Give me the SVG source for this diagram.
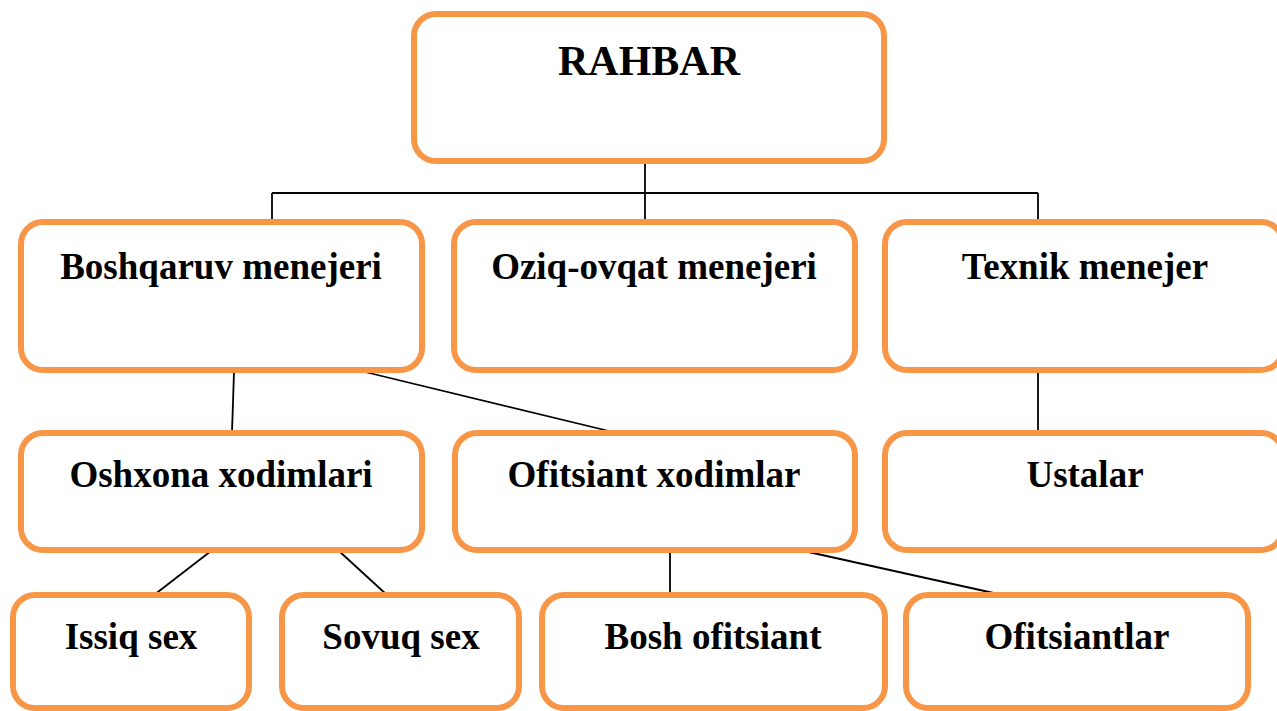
<svg xmlns="http://www.w3.org/2000/svg" width="1277" height="711" viewBox="0 0 1277 711">
<style>
.box{fill:#fff;stroke:#F79646;stroke-width:6}
.lbl{font-family:"Liberation Serif","Times New Roman",serif;font-weight:bold;font-size:37px;fill:#000;text-anchor:middle}
.big{font-size:42px}
.con line{stroke:#000;stroke-width:1.8}
</style>
<rect width="1277" height="711" fill="#fff"/>
<g class="con" id="connectors">
<line x1="645" y1="164" x2="645" y2="220"/>
<line x1="272" y1="193" x2="1038" y2="193"/>
<line x1="272" y1="193" x2="272" y2="220"/>
<line x1="1038" y1="193" x2="1038" y2="220"/>
<line x1="234" y1="372" x2="232" y2="432"/>
<line x1="361" y1="371" x2="613" y2="432"/>
<line x1="1038" y1="373" x2="1038" y2="432"/>
<line x1="211" y1="551" x2="154" y2="595"/>
<line x1="339" y1="551" x2="387" y2="595"/>
<line x1="670" y1="552" x2="670" y2="595"/>
<line x1="804" y1="551" x2="998" y2="594"/>
</g>
<g id="rahbar"><rect class="box" x="414" y="14" width="470" height="147" rx="22"/><text class="lbl big" x="649" y="75">RAHBAR</text></g>
<g id="boshqaruv"><rect class="box" x="21" y="222" width="401" height="148" rx="22"/><text class="lbl" x="221" y="279">Boshqaruv menejeri</text></g>
<g id="oziq"><rect class="box" x="454" y="222" width="401" height="148" rx="22"/><text class="lbl" x="654" y="279">Oziq-ovqat menejeri</text></g>
<g id="texnik"><rect class="box" x="885" y="222" width="398" height="148" rx="22"/><text class="lbl" x="1085" y="279">Texnik menejer</text></g>
<g id="oshxona"><rect class="box" x="21" y="433" width="401" height="117" rx="22"/><text class="lbl" x="221" y="487">Oshxona xodimlari</text></g>
<g id="ofitsiant-xodimlar"><rect class="box" x="455" y="433" width="400" height="117" rx="22"/><text class="lbl" x="654" y="487">Ofitsiant xodimlar</text></g>
<g id="ustalar"><rect class="box" x="885" y="433" width="398" height="117" rx="22"/><text class="lbl" x="1085" y="487">Ustalar</text></g>
<g id="issiq"><rect class="box" x="13" y="595" width="236" height="113" rx="22"/><text class="lbl" x="131" y="649">Issiq sex</text></g>
<g id="sovuq"><rect class="box" x="282" y="595" width="237" height="113" rx="22"/><text class="lbl" x="401" y="649">Sovuq sex</text></g>
<g id="bosh"><rect class="box" x="542" y="595" width="343" height="113" rx="22"/><text class="lbl" x="713" y="649">Bosh ofitsiant</text></g>
<g id="ofitsiantlar"><rect class="box" x="906" y="595" width="342" height="113" rx="22"/><text class="lbl" x="1077" y="649">Ofitsiantlar</text></g>
</svg>
